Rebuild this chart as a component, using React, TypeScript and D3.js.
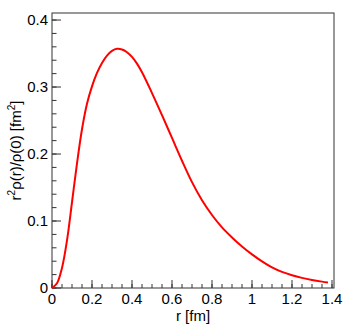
import React, { useRef, useEffect } from 'react';
import * as d3 from 'd3';

// r [fm] and r^2 rho(r)/rho(0) [fm^2]
const rValues = [
  0, 0.025, 0.05, 0.075, 0.1, 0.125, 0.15, 0.175, 0.2, 0.225, 0.25, 0.275, 0.3, 0.325, 0.35,
  0.375, 0.4, 0.425, 0.45, 0.5, 0.55, 0.6, 0.65, 0.7, 0.75, 0.8, 0.85, 0.9, 0.95, 1.0, 1.05, 1.1,
  1.15, 1.2, 1.25, 1.3, 1.35, 1.38,
];
const densityValues = [
  0, 0.007, 0.03, 0.071, 0.128, 0.186, 0.237, 0.275, 0.301, 0.321, 0.336, 0.347, 0.354, 0.357,
  0.356, 0.352, 0.345, 0.335, 0.322, 0.291, 0.258, 0.224, 0.19, 0.158, 0.131, 0.109, 0.0905,
  0.0755, 0.062, 0.0502, 0.0398, 0.0308, 0.024, 0.019, 0.0151, 0.012, 0.0095, 0.0082,
];
const xTicks = [0, 0.2, 0.4, 0.6, 0.8, 1, 1.2, 1.4];
const yTicks = [0, 0.1, 0.2, 0.3, 0.4];

const W = 349;
const H = 336;

function DensityChart() {
  const svgRef = useRef<SVGSVGElement>(null);

  useEffect(() => {
    const svg = d3.select(svgRef.current);
    svg.selectAll('*').remove();

    const margin = { top: 13, right: 15, bottom: 48, left: 52 };
    const innerWidth = W - margin.left - margin.right;
    const innerHeight = H - margin.top - margin.bottom;
    const font = 'Liberation Sans, Arial, sans-serif';

    const g = svg.append('g').attr('transform', `translate(${margin.left},${margin.top})`);

    const x = d3.scaleLinear().domain([0, 1.41]).range([0, innerWidth]);
    const y = d3.scaleLinear().domain([0, 0.4105]).range([innerHeight, 0]);

    // frame
    g.append('rect')
      .attr('width', innerWidth)
      .attr('height', innerHeight)
      .attr('fill', 'none')
      .attr('stroke', '#333')
      .attr('stroke-width', 1);

    // y ticks (inside, left)
    const yMinor = d3.range(0, 0.41, 0.02);
    g.selectAll('.ymin')
      .data(yMinor)
      .enter()
      .append('line')
      .attr('x1', 0)
      .attr('x2', 4.5)
      .attr('y1', (d) => y(d))
      .attr('y2', (d) => y(d))
      .attr('stroke', '#333');
    g.selectAll('.ymaj')
      .data(yTicks)
      .enter()
      .append('line')
      .attr('x1', 0)
      .attr('x2', 9)
      .attr('y1', (d) => y(d))
      .attr('y2', (d) => y(d))
      .attr('stroke', '#333');
    g.selectAll('.ylab')
      .data(yTicks)
      .enter()
      .append('text')
      .attr('x', -4)
      .attr('y', (d) => y(d))
      .attr('dy', '0.36em')
      .attr('text-anchor', 'end')
      .attr('font-family', font)
      .attr('font-size', 15)
      .text((d) => (d === 0 ? '0' : d3.format('.1f')(d)));

    // x ticks (inside, bottom)
    const xMinor = d3.range(0, 1.401, 0.05);
    g.selectAll('.xmin')
      .data(xMinor)
      .enter()
      .append('line')
      .attr('x1', (d) => x(d))
      .attr('x2', (d) => x(d))
      .attr('y1', innerHeight)
      .attr('y2', innerHeight - 4)
      .attr('stroke', '#333');
    g.selectAll('.xmaj')
      .data(xTicks)
      .enter()
      .append('line')
      .attr('x1', (d) => x(d))
      .attr('x2', (d) => x(d))
      .attr('y1', innerHeight)
      .attr('y2', innerHeight - 8)
      .attr('stroke', '#333');
    g.selectAll('.xlab')
      .data(xTicks)
      .enter()
      .append('text')
      .attr('x', (d) => x(d))
      .attr('y', innerHeight + 15.5)
      .attr('text-anchor', 'middle')
      .attr('font-family', font)
      .attr('font-size', 15)
      .text((d) => d3.format('~g')(d));

    // curve
    const pts = rValues.map((r, i) => [r, densityValues[i]] as [number, number]);
    const line = d3
      .line<[number, number]>()
      .x((d) => x(d[0]))
      .y((d) => y(d[1]))
      .curve(d3.curveCatmullRom.alpha(0.5));
    g.append('path')
      .datum(pts)
      .attr('d', line)
      .attr('fill', 'none')
      .attr('stroke', '#ff0000')
      .attr('stroke-width', 2);

    // axis titles
    g.append('text')
      .attr('x', innerWidth / 2)
      .attr('y', innerHeight + 33)
      .attr('text-anchor', 'middle')
      .attr('font-family', font)
      .attr('font-size', 15)
      .text('r [fm]');

    const yt = svg
      .append('text')
      .attr('transform', `translate(21,${margin.top + innerHeight / 2}) rotate(-90)`)
      .attr('text-anchor', 'middle')
      .attr('font-family', font)
      .attr('font-size', 15);
    yt.append('tspan').text('r');
    yt.append('tspan').attr('dy', -6).attr('font-size', 10).text('2');
    yt.append('tspan').attr('dy', 6).text('\u03c1(r)/\u03c1(0) [fm');
    yt.append('tspan').attr('dy', -6).attr('font-size', 10).text('2');
    yt.append('tspan').attr('dy', 6).text(']');
  }, []);

  return (
    <svg
      ref={svgRef}
      width={W}
      height={H}
      style={{ position: 'absolute', left: 0, top: 0, background: '#fff' }}
    ></svg>
  );
}

export default function App() {
  return <DensityChart />;
}
